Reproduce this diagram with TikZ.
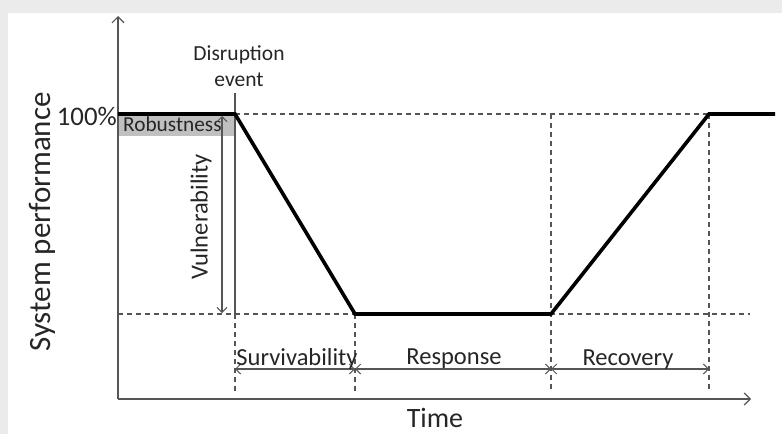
\documentclass[tikz,border=0pt]{standalone}
\usepackage{fontspec}
\setmainfont{Carlito}
\usetikzlibrary{arrows.meta}
\definecolor{bggray}{RGB}{235,235,235}
\definecolor{robgray}{RGB}{192,192,192}
\definecolor{inkgray}{RGB}{85,85,85}
\tikzset{
  axisline/.style={draw=inkgray, line width=1.6pt, -{Straight Barb[length=6pt,width=12pt,line width=1.2pt]}},
  spanline/.style={draw=inkgray, line width=1.3pt, {Straight Barb[length=5pt,width=10pt,line width=1pt]}-{Straight Barb[length=5pt,width=10pt,line width=1pt]}},
  guide/.style={draw=inkgray, line width=1.3pt, dash pattern=on 5pt off 4pt},
  perf/.style={draw=black, line width=3.6pt, line join=miter},
  biglabel/.style={font=\fontsize{28}{30}\selectfont, text=black!85, inner sep=0pt},
  smalllabel/.style={font=\fontsize{24.5}{26}\selectfont, text=black!85, inner sep=0pt, align=center}
}
\begin{document}
\begin{tikzpicture}[x=1pt,y=-1pt]
  \useasboundingbox (0,0) rectangle (782,434);
  % background
  \fill[bggray] (0,0) rectangle (782,434);
  \fill[white] (8,13) rectangle (782,434);
  % key points
  \coordinate (o) at (118,399);
  \coordinate (ytop) at (118,16);
  \coordinate (xend) at (751,399);
  \coordinate (p0) at (118,114);
  \coordinate (p1) at (235,114);
  \coordinate (p2) at (355,314);
  \coordinate (p3) at (551,314);
  \coordinate (p4) at (709,114);
  \coordinate (p5) at (775,114);
  \coordinate (evtop) at (235,93);
  \coordinate (evlow) at (235,314);
  \coordinate (lowleft) at (118,314);
  \coordinate (lowright) at (750,314);
  % robustness band
  \fill[robgray] (p0) rectangle (235,136);
  \node[smalllabel, font=\fontsize{21.3}{24}\selectfont, anchor=base west] (rob) at (123,131) {Robustness};
  % guides
  \draw[guide] (p1) -- (p4);
  \draw[guide] (lowleft) -- (lowright);
  \foreach \x/\n in {235/a,355/b,551/c,709/d}{
    \coordinate (foot\n) at (\x,392);
  }
  \draw[guide] (evlow) -- (foota);
  \draw[guide] (p2) -- (footb);
  \coordinate (c3top) at (551,114);
  \draw[guide] (c3top) -- (footc);
  \draw[guide] (p4) -- (footd);
  \draw[draw=inkgray, line width=1.4pt] (evtop) -- (evlow);
  % vulnerability
  \coordinate (vtop) at (222,116);
  \coordinate (vbot) at (222,313);
  \draw[spanline] (vtop) -- (vbot);
  \node[smalllabel, rotate=90] (vul) at (201,217) {Vulnerability};
  % axes
  \draw[axisline] (o) -- (ytop);
  \draw[axisline] (o) -- (xend);
  % performance curve
  \draw[perf] (p0) -- (p1) -- (p2) -- (p3) -- (p4) -- (p5);
  % phases
  \foreach \a/\b/\n in {235/355/sa,355/551/sb,551/709/sc}{
    \coordinate (\n l) at (\a,369);
    \coordinate (\n r) at (\b,369);
    \draw[spanline] (\n l) -- (\n r);
  }
  \node[smalllabel, anchor=base] (surv) at (297,365) {Survivability};
  \node[smalllabel, anchor=base] (resp) at (454,364) {Response};
  \node[smalllabel, anchor=base] (reco) at (628,365) {Recovery};
  % labels
  \node[smalllabel, font=\fontsize{21.5}{26}\selectfont, anchor=base] (evt) at (239,86) {Disruption\\event};
  \node[biglabel, font=\fontsize{26.8}{30}\selectfont, anchor=base east] (pct) at (117,125) {100\%};
  \node[biglabel, anchor=base] (time) at (435,427) {Time};
  \node[biglabel, font=\fontsize{31}{34}\selectfont, rotate=90] (sysp) at (42,222) {System performance};
\end{tikzpicture}
\end{document}
